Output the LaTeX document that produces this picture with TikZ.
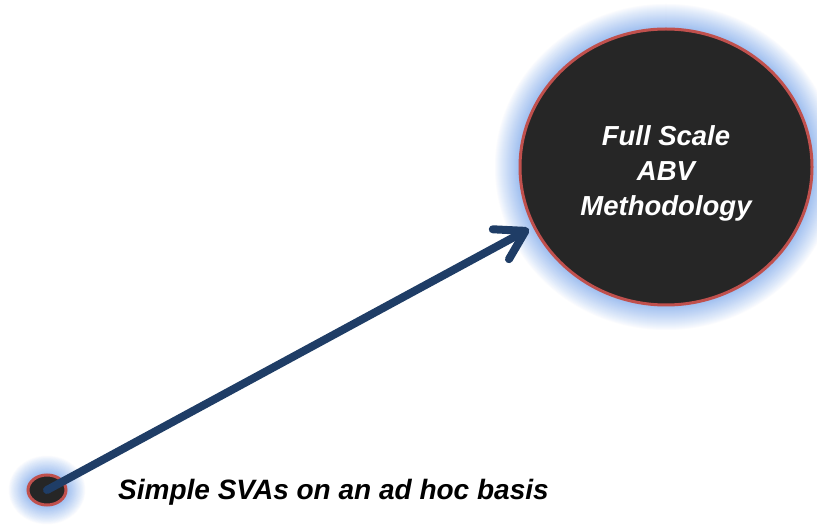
\documentclass[tikz,border=0pt]{standalone}
\usepackage{fontspec}
\setmainfont{Liberation Sans}
\usetikzlibrary{arrows.meta,shapes.geometric}
\definecolor{glow}{HTML}{9BBCEF}
\definecolor{rim}{HTML}{C0504D}
\definecolor{core}{HTML}{262626}
\definecolor{navy}{HTML}{1F3D66}
\tikzset{
  bubble/.style={ellipse, fill=core, draw=rim, line width=3pt, inner sep=0pt},
  conn/.style={draw=navy, line width=8pt, line cap=round,
    -{Straight Barb[length=28pt,width=34pt,line cap=round,round]}},
}
\begin{document}
\begin{tikzpicture}[x=1pt,y=-1pt]
\useasboundingbox (0,0) rectangle (817,526);
% glows
\foreach \i in {0,...,26}{
  \pgfmathsetmacro{\p}{100*(\i/26)^0.9}
  \fill[glow!\p!white] (666,167) ellipse [x radius={146+26-\i}, y radius={138+26-\i}];
  \fill[glow!\p!white] (47,490) ellipse [x radius={19+20-0.77*\i}, y radius={15+20-0.77*\i}];
}
\node[bubble, minimum width=292pt, minimum height=276pt] (big) at (666,167) {};
\node[text=white, align=center, font=\bfseries\itshape\fontsize{27.5}{35}\selectfont] (bigtext) at (666,173)
  {Full Scale\\ABV\\Methodology};
\node[bubble, minimum width=38pt, minimum height=30pt] (small) at (47,490) {};
\coordinate (tip) at (529,229);
\draw[conn] (small.center) -- (tip);
\node[anchor=base west, font=\bfseries\itshape\fontsize{28}{32}\selectfont, inner sep=0pt] (lbl) at (118,500) {Simple SVAs on an ad hoc basis};
\end{tikzpicture}
\end{document}
